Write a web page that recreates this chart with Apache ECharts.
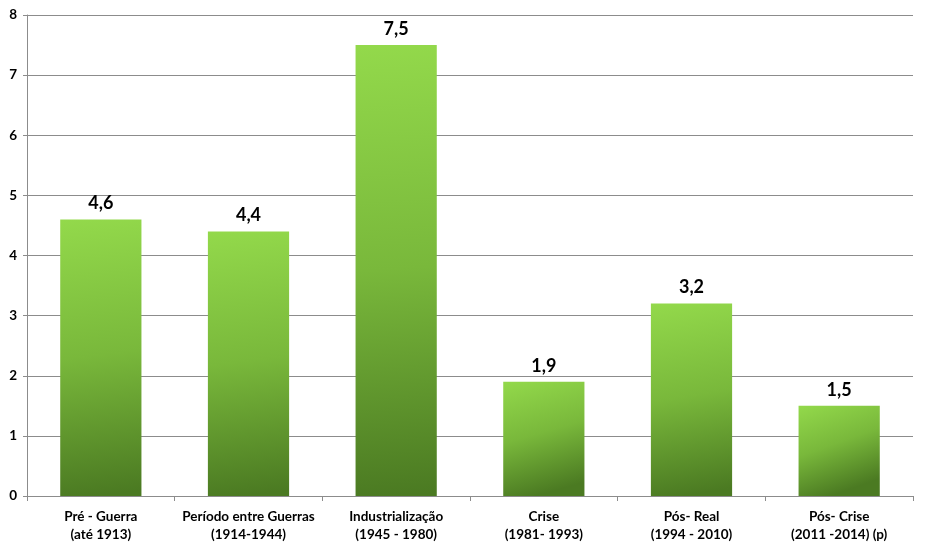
<!DOCTYPE html>
<html><head><meta charset="utf-8">
<script src="https://cdn.jsdelivr.net/npm/echarts@6/dist/echarts.min.js"></script>
<style>html,body{margin:0;padding:0;background:#fff}#c{width:927px;height:551px}</style>
</head><body><div id="c"></div>
<script>
const categories = ["Pré - Guerra\n(até 1913)", "Período entre Guerras\n(1914-1944)", "Industrialização\n(1945 - 1980)", "Crise\n(1981- 1993)", "Pós- Real\n(1994 - 2010)", "Pós- Crise\n(2011 -2014) (p)"];
const values = [4.6, 4.4, 7.5, 1.9, 3.2, 1.5];
const yTicks = [0, 1, 2, 3, 4, 5, 6, 7, 8];

const chart = echarts.init(document.getElementById('c'));
const font = 'Lato, "Open Sans", sans-serif';
chart.setOption({
  animation: false,
  grid: {left: 27, right: 14, top: 15, bottom: 55, containLabel: false},
  xAxis: {
    type: 'category', data: categories,
    axisLine: {lineStyle: {color: '#8c8c8c', width: 1}},
    axisTick: {show: true, length: 5, lineStyle: {color: '#8c8c8c'}},
    axisLabel: {color: '#000', fontWeight: 'bold', fontSize: 13.5, fontFamily: font, lineHeight: 18, margin: 12, interval: 0}
  },
  yAxis: {
    type: 'value', min: yTicks[0], max: yTicks[yTicks.length - 1], interval: 1,
    axisLine: {show: true, lineStyle: {color: '#8c8c8c', width: 1}},
    axisTick: {show: true, length: 4, lineStyle: {color: '#8c8c8c'}},
    splitLine: {lineStyle: {color: '#8c8c8c', width: 1}},
    axisLabel: {color: '#000', fontWeight: 'bold', fontSize: 13.5, fontFamily: font, margin: 10}
  },
  series: [{
    type: 'bar', data: values, barWidth: '55%',
    itemStyle: {
      color: new echarts.graphic.LinearGradient(0, 0, 0.4, 1, [
        {offset: 0, color: '#93d94b'},
        {offset: 0.5, color: '#79b83b'},
        {offset: 1, color: '#4b7a22'}
      ])
    },
    label: {
      show: true, position: 'top', distance: 7, color: '#000', fontWeight: 'bold', fontSize: 18, fontFamily: font,
      formatter: p => String(p.value).replace('.', ',')
    }
  }]
});
</script></body></html>
